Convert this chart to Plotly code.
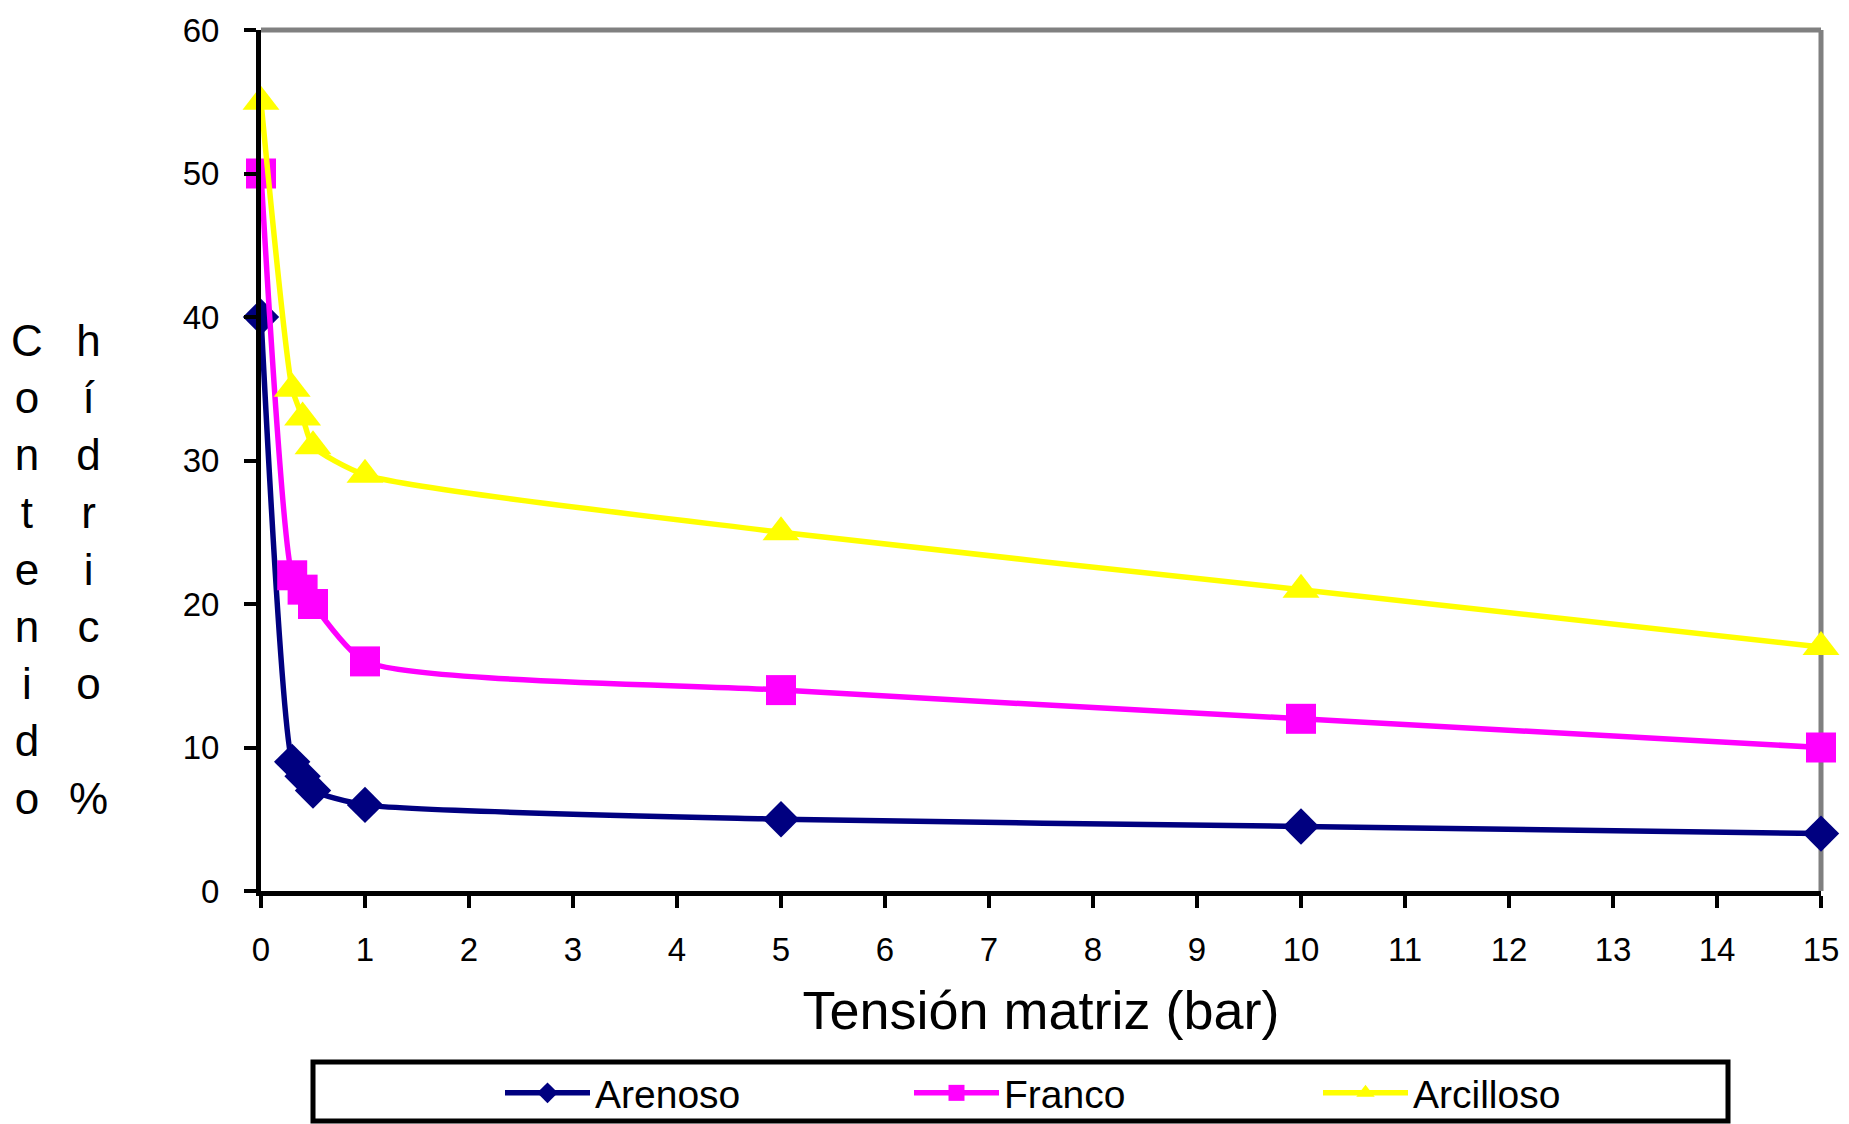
import plotly.graph_objects as go

# Data
tension = [0, 0.3, 0.4, 0.5, 1, 5, 10, 15]
arenoso = [40, 9, 8, 7, 6, 5, 4.5, 4]
franco = [50, 22, 21, 20, 16, 14, 12, 10]
arcilloso = [55, 35, 33, 31, 29, 25, 21, 17]

x_ticks = list(range(0, 16))
y_ticks = list(range(0, 61, 10))

series_names = ["Arenoso", "Franco", "Arcilloso"]
colors = ["#000080", "#FF00FF", "#FFFF00"]
symbols = ["diamond", "square", "triangle-up"]
sizes = [28, 30, 32]

FONT = "Liberation Sans, Arial, sans-serif"

fig = go.Figure()
for name, ys, col, sym, sz in zip(series_names, [arenoso, franco, arcilloso], colors, symbols, sizes):
    fig.add_trace(go.Scatter(
        x=tension, y=ys, name=name, mode="lines+markers",
        line=dict(color=col, width=5.5, shape="spline", smoothing=0.6),
        marker=dict(color=col, symbol=sym, size=sz, line=dict(width=0)),
        cliponaxis=False,
    ))

W, H = 1849, 1124
L, R, T, B = 253, 36, 22, 241
pw = W - L - R
ph = H - T - B

def px_x(px):
    return (px - L) / pw

def px_y(py):
    return (H - B - py) / ph

fig.update_layout(
    width=W, height=H,
    margin=dict(l=L, r=R, t=T, b=B, autoexpand=False),
    paper_bgcolor="white", plot_bgcolor="white",
    font=dict(family=FONT, color="black", size=33),
    showlegend=True,
    legend=dict(
        orientation="h",
        x=px_x(492), y=px_y(1085), xanchor="left", yanchor="middle",
        font=dict(size=39, family=FONT, color="black"),
        itemwidth=85,
        entrywidth=309,
        bgcolor="rgba(0,0,0,0)",
        borderwidth=0,
        traceorder="normal",
    ),
    xaxis=dict(
        range=[0, 15], tickvals=x_ticks, ticktext=[str(v) for v in x_ticks],
        showgrid=False, zeroline=False,
        showline=True, linecolor="black", linewidth=5,
        ticks="outside", ticklen=12, tickwidth=4, tickcolor="black",
        tickfont=dict(size=33, family=FONT),
        ticklabelstandoff=13,
        ticklabeloverflow="allow",
        title=dict(text="Tensión matriz (bar)", font=dict(size=54, family=FONT), standoff=26),
    ),
    yaxis=dict(
        range=[0, 60], tickvals=y_ticks, ticktext=[str(v) for v in y_ticks],
        showgrid=False, zeroline=False,
        showline=True, linecolor="black", linewidth=5,
        ticks="outside", ticklen=12, tickwidth=4, tickcolor="black",
        tickfont=dict(size=33, family=FONT),
        ticklabelstandoff=18,
        ticklabeloverflow="allow",
    ),
)

# gray top and right frame lines
fig.add_shape(type="line", xref="paper", yref="paper", x0=0, x1=1, y0=1, y1=1,
              line=dict(color="#808080", width=5), layer="below")
fig.add_shape(type="line", xref="paper", yref="paper", x0=1, x1=1, y0=0, y1=1,
              line=dict(color="#808080", width=5), layer="below")

# legend frame
fig.add_shape(type="rect", xref="paper", yref="paper",
              x0=px_x(305), x1=px_x(1720), y0=px_y(1054), y1=px_y(1113),
              line=dict(color="black", width=5))

# stacked vertical y-axis title in two columns
col1 = "<br>".join(list("Contenido"))
col2 = "<br>".join(["h", "í", "d", "r", "i", "c", "o", " ", "%"])
for txt, xpx in [(col1, 19), (col2, 80)]:
    fig.add_annotation(
        text=txt, xref="paper", yref="paper", x=px_x(xpx), y=px_y(561),
        xanchor="center", yanchor="middle", align="center", showarrow=False,
        font=dict(size=44, family=FONT, color="black"),
    )

fig.write_html("out.html")
